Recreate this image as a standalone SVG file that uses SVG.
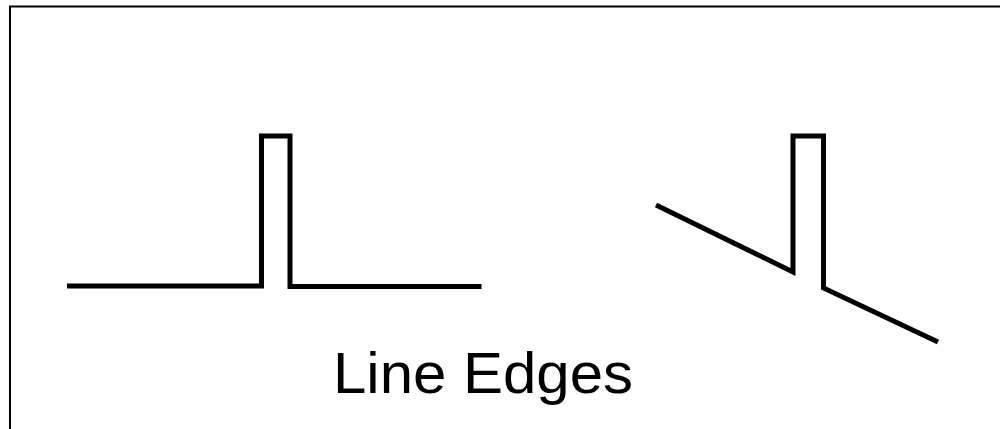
<svg xmlns="http://www.w3.org/2000/svg" width="1000" height="429" viewBox="0 0 1000 429">
<style>
.edge{fill:none;stroke:#000;stroke-width:5;stroke-linejoin:miter;stroke-linecap:butt}
.label{font-family:"Liberation Sans",Arial,sans-serif;font-size:57px;fill:#000}
</style>
<rect x="0" y="0" width="1000" height="429" fill="#fff"/>
<g id="frame">
<path d="M10,430 V6.5 H1001" fill="none" stroke="#000" stroke-width="2"/>
</g>
<g id="connectors">
<path class="edge" d="M67,286 H261.5 V136 H290 V286.5 H481.5"/>
<path class="edge" d="M656,205 L793,272 V136 H823.5 V288 L938,342"/>
</g>
<g id="caption">
<text class="label" x="333" y="393" textLength="300" lengthAdjust="spacingAndGlyphs">Line Edges</text>
</g>
</svg>
